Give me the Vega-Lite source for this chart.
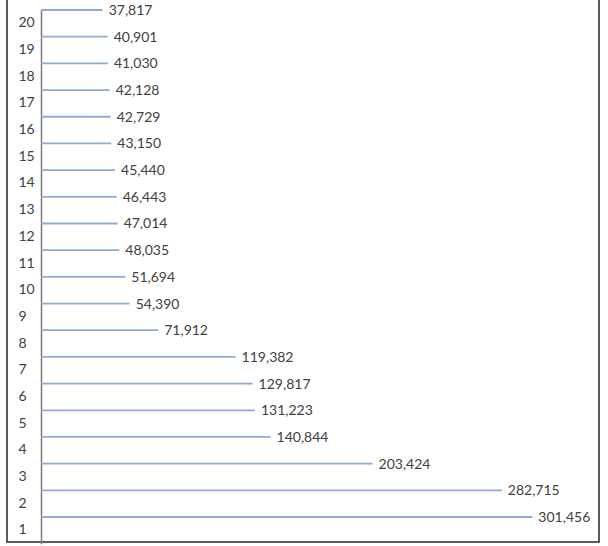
{
  "$schema": "https://vega.github.io/schema/vega-lite/v6.json",
  "width": 592,
  "height": 544,
  "autosize": {"type": "none"},
  "padding": {"left": 7, "top": -2, "right": 9, "bottom": 4},
  "background": "white",
  "config": {
    "view": {"stroke": "#262626", "strokeWidth": 1.5},
    "font": "Lato"
  },
  "data": {
    "values": [
      {"rank": 1, "value": 301456},
      {"rank": 2, "value": 282715},
      {"rank": 3, "value": 203424},
      {"rank": 4, "value": 140844},
      {"rank": 5, "value": 131223},
      {"rank": 6, "value": 129817},
      {"rank": 7, "value": 119382},
      {"rank": 8, "value": 71912},
      {"rank": 9, "value": 54390},
      {"rank": 10, "value": 51694},
      {"rank": 11, "value": 48035},
      {"rank": 12, "value": 47014},
      {"rank": 13, "value": 46443},
      {"rank": 14, "value": 45440},
      {"rank": 15, "value": 43150},
      {"rank": 16, "value": 42729},
      {"rank": 17, "value": 42128},
      {"rank": 18, "value": 41030},
      {"rank": 19, "value": 40901},
      {"rank": 20, "value": 37817}
    ]
  },
  "encoding": {
    "y": {
      "field": "rank",
      "type": "ordinal",
      "sort": "descending",
      "bandPosition": 0,
      "scale": {"range": [12, 545.7], "paddingInner": 0, "paddingOuter": 0},
      "axis": {
        "orient": "left",
        "offset": -34,
        "ticks": false,
        "grid": false,
        "title": null,
        "labelAlign": "left",
        "labelPadding": 23,
        "labelFont": "Lato",
        "labelFontSize": 14,
        "labelColor": "#404040",
        "labelBaseline": "middle",
        "domainColor": "#7a7a7a",
        "domainWidth": 1.5
      }
    },
    "x": {
      "field": "value",
      "type": "quantitative",
      "scale": {"domain": [-20859, 342331], "nice": false, "zero": false},
      "axis": null
    }
  },
  "layer": [
    {
      "mark": {"type": "rule", "color": "#8eaadb", "strokeWidth": 1.8},
      "encoding": {"x2": {"datum": 0}}
    },
    {
      "mark": {"type": "text", "align": "left", "baseline": "middle", "dx": 6, "dy": 1, "font": "Lato", "fontSize": 14, "color": "#404040"},
      "encoding": {"text": {"field": "value", "type": "quantitative", "format": ","}}
    }
  ]
}
